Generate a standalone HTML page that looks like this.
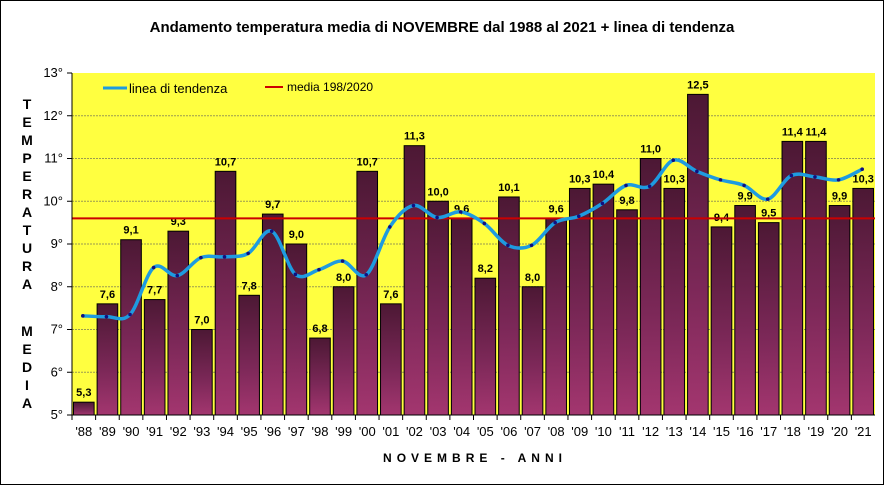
<!DOCTYPE html>
<html><head><meta charset="utf-8"><style>
body{margin:0;background:#fff;}
#c{position:relative;width:884px;height:485px;overflow:hidden;}
text{font-family:"Liberation Sans",Arial,sans-serif;}
</style></head><body>
<div id="c">
<svg id="svg" width="884" height="485" xmlns="http://www.w3.org/2000/svg">
<defs><linearGradient id="bg" x1="0" y1="0" x2="0" y2="1"><stop offset="0" stop-color="#4c1834"/><stop offset="0.6" stop-color="#7c2858"/><stop offset="1" stop-color="#a3366f"/></linearGradient></defs>
<rect x="0.5" y="0.5" width="883" height="484" fill="#fff" stroke="#000"/>
<text x="442" y="32" text-anchor="middle" font-size="15" font-weight="bold">Andamento temperatura media di NOVEMBRE dal 1988 al 2021 + linea di tendenza</text>
<rect x="72" y="73" width="803" height="342" fill="#ffff40"/>
<g id="grid"></g>
<g id="bars"></g>
<g id="mean"></g>
<g id="trend"></g>
<g id="axes"></g>
<g>
<line x1="103" y1="88" x2="127" y2="88" stroke="#1e9be0" stroke-width="3"/>
<text x="129" y="93" font-size="13">linea di tendenza</text>
<line x1="265" y1="87" x2="283" y2="87" stroke="#cc0000" stroke-width="2"/>
<text x="287" y="91" font-size="12">media 198/2020</text>
</g>
<g font-size="14" font-weight="bold" text-anchor="middle">
<text x="27" y="109">T</text><text x="27" y="127">E</text><text x="27" y="145">M</text><text x="27" y="163">P</text><text x="27" y="181">E</text><text x="27" y="199">R</text><text x="27" y="217">A</text><text x="27" y="235">T</text><text x="27" y="253">U</text><text x="27" y="271">R</text><text x="27" y="289">A</text>
<text x="27" y="336">M</text><text x="27" y="354">E</text><text x="27" y="372">D</text><text x="27" y="390">I</text><text x="27" y="408">A</text>
</g>
<text x="475" y="462" text-anchor="middle" font-size="12" font-weight="bold" letter-spacing="5">NOVEMBRE - ANNI</text>
</svg>
</div>
<script>
const years=["'88","'89","'90","'91","'92","'93","'94","'95","'96","'97","'98","'99","'00","'01","'02","'03","'04","'05","'06","'07","'08","'09","'10","'11","'12","'13","'14","'15","'16","'17","'18","'19","'20","'21"];
const temps=[5.3,7.6,9.1,7.7,9.3,7.0,10.7,7.8,9.7,9.0,6.8,8.0,10.7,7.6,11.3,10.0,9.6,8.2,10.1,8.0,9.6,10.3,10.4,9.8,11.0,10.3,12.5,9.4,9.9,9.5,11.4,11.4,9.9,10.3];
const trend=[7.32,7.3,7.35,8.45,8.26,8.68,8.7,8.78,9.3,8.29,8.4,8.6,8.28,9.4,9.9,9.62,9.75,9.48,8.97,8.97,9.5,9.65,9.95,10.37,10.35,10.96,10.7,10.5,10.37,10.05,10.6,10.57,10.5,10.75];
const meanValue=9.6;
const yTicks=[5,6,7,8,9,10,11,12,13];
const NS="http://www.w3.org/2000/svg";
const L=72,R=875,T=73,B=415,yMin=5,yMax=13;
const bw=(R-L)/years.length;
const y=v=>B-(v-yMin)/(yMax-yMin)*(B-T);
const xc=i=>L+bw*(i+0.5);
function mk(tag,parent,attrs){const e=document.createElementNS(NS,tag);for(const k in attrs)e.setAttribute(k,attrs[k]);parent.appendChild(e);return e;}
const grid=document.getElementById('grid'),axes=document.getElementById('axes');
yTicks.forEach(v=>{
  if(v>yMin&&v<yMax){const g=mk('line',grid,{x1:L,x2:R,y1:y(v),y2:y(v),stroke:'#9a9a50','stroke-width':1,'stroke-dasharray':'2,1'});
  
  }
  const tk=mk('line',axes,{x1:L-5,x2:L,y1:y(v),y2:y(v),stroke:'#000'});
  
  
  const t=mk('text',axes,{x:L-9,y:y(v)+4,'text-anchor':'end','font-size':13});
  t.textContent=v+'°';
  
  
});
const ya=mk('line',axes,{x1:L,x2:L,y1:T,y2:B,stroke:'#000'});


const xa=mk('line',axes,{x1:L,x2:R,y1:B,y2:B,stroke:'#000'});


const bars=document.getElementById('bars');
years.forEach((yr,i)=>{
  const x0=L+bw*i;
  const b=mk('rect',bars,{x:x0+1.5,y:y(temps[i]),width:bw-3,height:B-y(temps[i]),fill:'url(#bg)',stroke:'#000','stroke-width':1});
  
  
  const lb=mk('text',bars,{x:x0+1.5+(bw-3)/2,y:y(temps[i])-6,'text-anchor':'middle','font-size':11,'font-weight':'bold'});
  lb.textContent=temps[i].toFixed(1).replace('.',',');
  
  
  const tk=mk('line',axes,{x1:x0,x2:x0,y1:B,y2:B+5,stroke:'#000'});
  
  
  const xl=mk('text',axes,{x:xc(i),y:B+21,'text-anchor':'middle','font-size':13});
  xl.textContent=yr;
  
  
});
const ml=mk('line',document.getElementById('mean'),{x1:L,x2:R,y1:y(meanValue),y2:y(meanValue),stroke:'#cc0000','stroke-width':2});


const pts=trend.map((v,i)=>[xc(i)-1,y(v)]);
let d='M'+pts[0][0]+','+pts[0][1];
for(let i=0;i<pts.length-1;i++){
  const p0=pts[Math.max(0,i-1)],p1=pts[i],p2=pts[i+1],p3=pts[Math.min(pts.length-1,i+2)];
  const c1=[p1[0]+(p2[0]-p0[0])/6,p1[1]+(p2[1]-p0[1])/6],c2=[p2[0]-(p3[0]-p1[0])/6,p2[1]-(p3[1]-p1[1])/6];
  d+=' C'+c1.join(',')+' '+c2.join(',')+' '+p2.join(',');
}
const tg=document.getElementById('trend');
const tl=mk('path',tg,{d:d,fill:'none',stroke:'#1e9be0','stroke-width':3.5});


pts.forEach(p=>{const c=mk('circle',tg,{cx:p[0],cy:p[1],r:1.8,fill:'#101080'});

});
</script>
</body></html>
